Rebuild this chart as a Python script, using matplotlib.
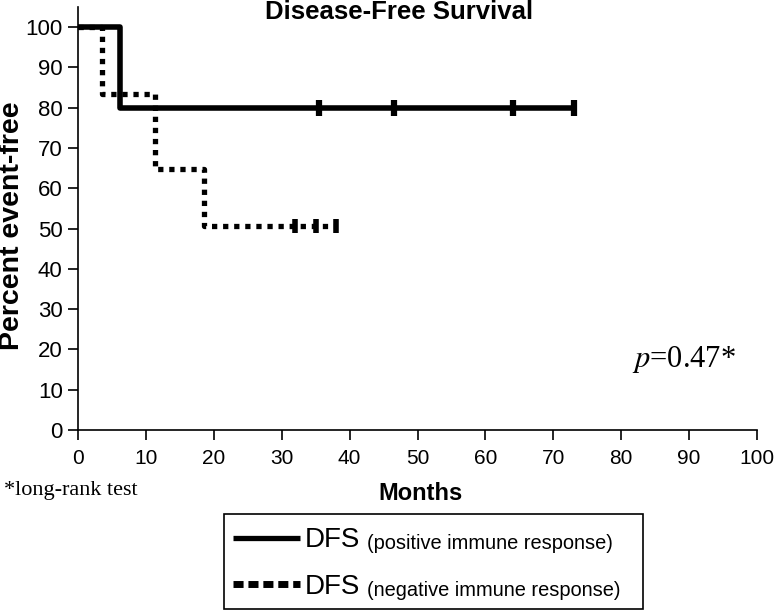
import matplotlib
matplotlib.use("Agg")
import matplotlib.pyplot as plt
import matplotlib.patches as mpatches
from matplotlib.lines import Line2D

# ── Data ────────────────────────────────────────────────────────────
pos_times = [0, 6.2, 73]
pos_surv = [100, 80, 80]
pos_cens_t = [35.5, 46.5, 64, 73]
pos_cens_s = [80, 80, 80, 80]

neg_times = [0, 3.6, 11.4, 18.5, 38]
neg_surv = [100, 83.3, 64.8, 50.6, 50.6]
neg_cens_t = [32, 35, 38]
neg_cens_s = [50.6, 50.6, 50.6]

x_ticks = list(range(0, 101, 10))
y_ticks = list(range(0, 101, 10))

W, H = 774, 611
SANS = ["Liberation Sans", "DejaVu Sans"]
SERIF = ["Liberation Serif", "DejaVu Serif"]
plt.rcParams["font.family"] = SANS
plt.rcParams["mathtext.fontset"] = "stix"


def px(x, y):
    """pixel position (from top-left) -> figure fraction"""
    return x / W, 1 - y / H


fig = plt.figure(figsize=(W / 100, H / 100), dpi=100, facecolor="white")
ax = fig.add_axes([78 / W, 1 - 430 / H, (757 - 78) / W, 423 / H])

# ── Curves ──────────────────────────────────────────────────────────
ax.step(pos_times, pos_surv, where="post", color="black", lw=4,
        solid_capstyle="butt", zorder=3)
ax.plot(pos_cens_t, pos_cens_s, ls="none", marker="|", markersize=11,
        mew=4.5, color="black", zorder=4)

neg_line, = ax.step(neg_times, neg_surv, where="post", color="black", lw=3.8,
                    zorder=2)
neg_line.set_dashes((1, 1.1))
neg_line.set_dash_capstyle("butt")
ax.plot(neg_cens_t, neg_cens_s, ls="none", marker="|", markersize=10,
        mew=4, color="black", zorder=4)

# ── Axes ────────────────────────────────────────────────────────────
ax.set_xlim(0, 100)
ax.set_ylim(0, 105)
ax.set_xticks(x_ticks)
ax.set_yticks(y_ticks)
for s in ("top", "right"):
    ax.spines[s].set_visible(False)
for s in ("left", "bottom"):
    ax.spines[s].set_linewidth(1.2)
ax.tick_params(axis="both", direction="out", length=7, width=1.2,
               colors="black")
ax.tick_params(axis="x", pad=7, labelsize=15)
ax.tick_params(axis="y", pad=4, labelsize=16)

ax.set_ylabel("Percent event-free", fontsize=20.5, fontweight="bold")
ax.yaxis.set_label_coords((25 - 78) / 679, (430 - 226) / 423)

fig.text(*px(399, 19), "Disease-Free Survival", ha="center", va="baseline",
         fontsize=18.5, fontweight="bold")
fig.text(*px(421, 500), "Months", ha="center", va="baseline",
         fontsize=17, fontweight="bold")
fig.text(*px(4, 495), "*long-rank test", ha="left", va="baseline",
         fontsize=16, family=SERIF)
fig.text(*px(632, 367), r"$p$=0.47*", ha="left", va="baseline",
         fontsize=22, family=SERIF)

# ── Legend (built by hand for the mixed text sizes) ─────────────────
x0, y0 = px(224, 609)
x1, y1 = px(643, 514)
fig.patches.append(mpatches.Rectangle((x0, y0), x1 - x0, y1 - y0,
                                      transform=fig.transFigure, fill=False,
                                      edgecolor="black", lw=1.2))

hx0, _ = px(233, 0)
hx1, _ = px(300, 0)
_, hy1 = px(0, 538)
_, hy2 = px(0, 584)
fig.lines.append(Line2D([hx0, hx1], [hy1, hy1], transform=fig.transFigure,
                        color="black", lw=3.8, solid_capstyle="butt"))
leg_neg = Line2D([hx0, hx1], [hy2, hy2], transform=fig.transFigure,
                 color="black", lw=5, dash_capstyle="butt")
leg_neg.set_dashes((1.45, 0.7))
fig.lines.append(leg_neg)

for yb, label in ((547, "(positive immune response)"),
                  (594, "(negative immune response)")):
    fig.text(*px(305, yb), "DFS", ha="left", va="baseline", fontsize=20)
    fig.text(*px(367, yb + 2), label, ha="left", va="baseline", fontsize=14.4)

fig.savefig("out.png", dpi=100, facecolor="white")
